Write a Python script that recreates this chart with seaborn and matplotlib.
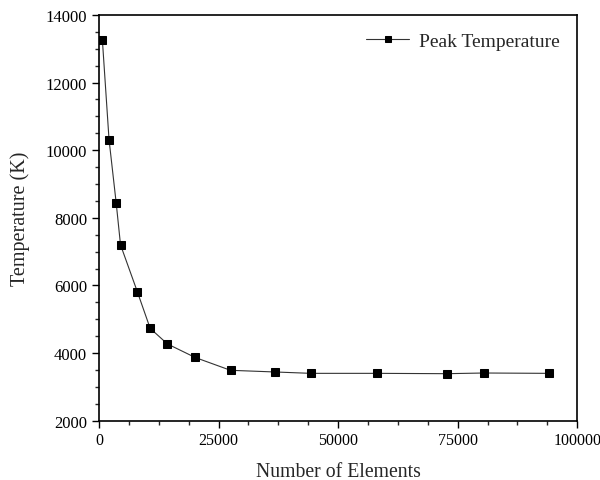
import matplotlib
matplotlib.use("Agg")
import matplotlib.pyplot as plt
from matplotlib.ticker import MultipleLocator
import seaborn as sns
import pandas as pd

elements = [700, 2100, 3600, 4500, 8000, 10700, 14300, 20100, 27500, 36900, 44300, 58100, 72700, 80500, 94000]
peak_temp = [13270, 10310, 8430, 7200, 5820, 4730, 4270, 3870, 3490, 3440, 3400, 3400, 3390, 3410, 3400]
series_name = "Peak Temperature"

df = pd.DataFrame({"Number of Elements": elements, "Temperature (K)": peak_temp, "series": series_name})

sns.set_theme(style="ticks")
plt.rcParams['font.family'] = ['Liberation Serif', 'DejaVu Serif']
plt.rcParams['mathtext.fontset'] = 'stix'

fig = plt.figure(figsize=(6, 4.81), dpi=100)
ax = fig.add_axes([0.165, 0.1233, 0.797, 0.8437])

sns.lineplot(data=df, x="Number of Elements", y="Temperature (K)", hue="series",
             palette=["black"], marker="s", markersize=5.5, markeredgecolor="black",
             linewidth=0.8, ax=ax)
for ln in ax.lines:
    ln.set_color("#333333")
    ln.set_markerfacecolor("black")
    ln.set_markeredgecolor("black")

ax.set_xlim(0, 100000)
ax.set_ylim(2000, 14000)
ax.xaxis.set_major_locator(MultipleLocator(25000))
ax.xaxis.set_minor_locator(MultipleLocator(6250))
ax.yaxis.set_major_locator(MultipleLocator(2000))
ax.yaxis.set_minor_locator(MultipleLocator(500))
ax.tick_params(axis="both", which="major", direction="out", length=5, width=1,
               labelsize=12, colors="black", top=False, right=False)
ax.tick_params(axis="x", which="major", pad=3, labelsize=11.5)
ax.tick_params(axis="both", which="minor", direction="out", length=3, width=1,
               top=False, right=False)
for s in ax.spines.values():
    s.set_visible(True)
    s.set_color("black")
    s.set_linewidth(1.2)

ax.set_xlabel("Number of Elements", fontsize=14.2, labelpad=10)
ax.set_ylabel("Temperature (K)", fontsize=14.5, labelpad=11)

leg = ax.legend(loc="upper right", frameon=False, fontsize=14, handlelength=2.2,
                handletextpad=0.5, markerscale=0.75, borderaxespad=0.5)

fig.savefig("out.png", dpi=100)
